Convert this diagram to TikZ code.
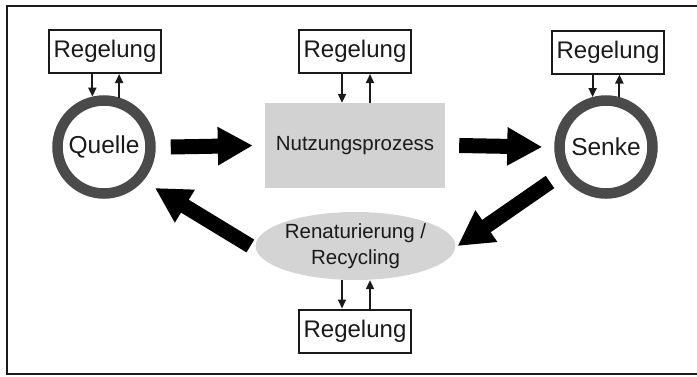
\documentclass[tikz,border=0pt]{standalone}
\usepackage{fontspec}
\setmainfont{Liberation Sans}
\usetikzlibrary{arrows.meta,calc,positioning,shapes.geometric}
\definecolor{ink}{HTML}{1A1A1A}
\definecolor{ring}{HTML}{4A4A4A}
\definecolor{procfill}{HTML}{D2D2D2}
\definecolor{loopfill}{HTML}{D4D4D4}
\tikzset{
  regbox/.style={draw=ink,fill=white,line width=2pt,minimum width=112pt,minimum height=43pt,
                 inner sep=2pt,text=ink,font=\fontsize{24}{28}\selectfont},
  ringnode/.style={circle,draw=ring,fill=white,line width=10.5pt,minimum size=93pt,inner sep=0pt,
                   text=ink,font=\fontsize{24.5}{28}\selectfont},
  procbox/.style={fill=procfill,minimum width=180pt,minimum height=85pt,inner sep=0pt,
                  text=ink,font=\fontsize{20.5}{24}\selectfont},
  loopnode/.style={ellipse,fill=loopfill,minimum width=181pt,minimum height=68pt,inner sep=0pt,
                   align=center,text=ink,font=\fontsize{20.5}{26}\selectfont},
  ctrlflow/.style={-{Triangle[length=9pt,width=8pt]},line width=2pt,draw=ink},
  mainflow/.style={-{Triangle[length=35pt,width=36pt]},line width=15pt,draw=black},
  frame/.style={line width=2pt,draw=ink}
}
\begin{document}
\begin{tikzpicture}[x=1pt,y=-1pt]
  \useasboundingbox (0,0) rectangle (697,376);
  \draw[frame] (697,6) -- (7,6) -- (7,374) -- (697,374);
  % Kreislauf
  \node[ringnode] (quelle) at (104,147) {Quelle};
  \node[ringnode] (senke) at (606,147) {Senke};
  \node[procbox] (nutz) at (355,145.5) {Nutzungsprozess};
  \node[loopnode] (renat) at (355.5,246) {Renaturierung /\\Recycling};
  % Regelung
  \node[regbox] (rq) at (105,51.5) {Regelung};
  \node[regbox] (rn) at (355,51.5) {Regelung};
  \node[regbox] (rs) at (608,52) {Regelung};
  \node[regbox] (rr) at (355,331) {Regelung};
  \draw[ctrlflow] (quelle.103 |- rq.south) -- (quelle.103);
  \draw[ctrlflow] (quelle.73) -- (quelle.73 |- rq.south);
  \draw[ctrlflow] (senke.105 |- rs.south) -- (senke.105);
  \draw[ctrlflow] (senke.75) -- (senke.75 |- rs.south);
  \draw[ctrlflow] ([xshift=-13pt]rn.south) -- ([xshift=-13pt]rn.south |- nutz.north);
  \draw[ctrlflow] ([xshift=15pt]rn.south |- nutz.north) -- ([xshift=15pt]rn.south);
  \draw[ctrlflow] ([xshift=-13pt]rr.north |- renat.south) -- ([xshift=-13pt]rr.north);
  \draw[ctrlflow] ([xshift=15pt]rr.north) -- ([xshift=15pt]rr.north |- renat.south);
  % Stoffstrom
  \coordinate (sk) at (550,182);
  \coordinate (ql) at (155,188);
  \draw[mainflow] ([xshift=15pt]quelle.east) -- ([xshift=-12pt]nutz.west);
  \draw[mainflow] ([xshift=14pt]nutz.east) -- ([xshift=-12pt]senke.west);
  \draw[mainflow] (sk) -- ([xshift=2pt]renat.east);
  \draw[mainflow] ([xshift=-5pt]renat.west) -- (ql);
\end{tikzpicture}
\end{document}
